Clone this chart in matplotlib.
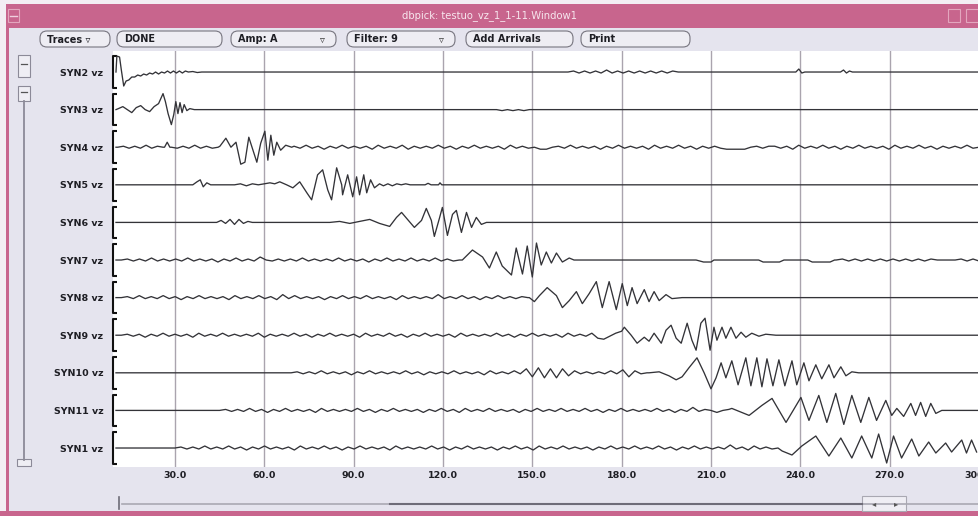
import numpy as np
import matplotlib.pyplot as plt
from matplotlib.patches import Rectangle, FancyBboxPatch

# ---------------- data (times in s, amplitudes in screen pixels) ----------------
stations = ['SYN2 vz', 'SYN3 vz', 'SYN4 vz', 'SYN5 vz', 'SYN6 vz', 'SYN7 vz',
            'SYN8 vz', 'SYN9 vz', 'SYN10 vz', 'SYN11 vz', 'SYN1 vz']
tick_times = [30, 60, 90, 120, 150, 180, 210, 240, 270, 300]
tick_labels = ['30.0', '60.0', '90.0', '120.0', '150.0', '180.0', '210.0',
               '240.0', '270.0', '300.0']
button_labels = ['Traces \u25bf', 'DONE', 'Amp: A', 'Filter: 9', 'Add Arrivals', 'Print']
button_menu = [False, False, True, True, False, False]
title = 'dbpick: testuo_vz_1_1-11.Window1'

syn2 = [(10.2, 0), (10.5, 16), (11.4, 15), (12.0, 2), (12.8, -14), (13.6, -9), (14.5, -8),
        (15.5, -5), (16.5, -5), (17.5, -3), (18.5, -4), (19.5, -2), (20.5, -3), (21.5, -1),
        (22.5, -2), (23.5, 0), (24.5, -2), (25.5, 0), (26.5, -1), (27.5, 1), (28.5, -1),
        (29.5, 1), (30.5, -1), (31.5, 1), (32.5, -1), (33.5, 1), (34.5, 0), (36, 0.5),
        (37.5, -0.5), (39, 0), (161, 0), (238.5, 0), (239.5, 3), (240.5, -1), (241.5, 0),
        (253.5, 0), (254.5, 2), (255.5, -1), (256.5, 1), (257.5, 0), (300, 0)]
syn2_noise = [(162, 199, [0, 1, -1, 1, -1, 1, -1, 2, -1, 1, -1, 1, -1, 1, -1, 1, -1, 1, -1, 1, 0])]

syn3 = [(10.2, 0), (11, 1), (12.5, 3), (14, 0), (15.5, -3), (17, 2), (18.5, 4), (20, 0),
        (21.5, -2), (23, 3), (24.5, 6), (26, 16), (26.8, 8), (27.7, -4), (28.8, -15),
        (29.6, -5), (30.3, 8), (31.0, -4), (31.7, 7), (32.4, -3), (33.1, 5), (34.0, -1),
        (35.0, 1), (36.5, 0), (137.5, 0), (150, 0), (300, 0)]
syn3_noise = [(138, 149, [0, -1, 0, -1, 0, -1, 0])]

syn4 = [(10.2, 0), (26.5, 0), (27.4, 5), (28.3, 0), (45.1, 1), (47.1, 9), (48.8, 0),
        (50.5, 5), (52.1, -17), (53.5, -15), (54.8, 10), (56.1, -2), (57.5, -15), (58.8, 4),
        (60.2, 16), (61.2, -13), (62.2, 12), (63.2, -8), (64.2, 5), (65.5, -3), (67.2, 2),
        (69.2, 0)]
syn4_noise = [(10.8, 26.0, [0, 1, -1, 1, -1, 2, -1, 1, 0]),
              (28.8, 44.5, [0, -1, 1, -1, 2, -1, 1, -1, 0]),
              (70.0, 300.0, [1, -1, 2, -1, 1, -2, 1, -1, 2, -1,
                             1, -1, 1, -2, 2, -1, 1, -1, 2, -2,
                             1, -1, 1, -1, 2, -1, 1, -2, 1, -1,
                             2, -1, 1, -1, 1, -2, 2, -1, 1, -1,
                             0, -2, -2, 0, 1, -1, 2, -1, 1, -1,
                             1, -2, 1, -1, 2, -1, 1, -1, 1, -2,
                             2, -1, 1, -1, 2, -1, 1, -2, 1, -1,
                             1, -1, -2, -2, -2, -2, 0, 1, -1, 1,
                             1, -1, 1, -2, 2, -1, 1, -1, 2, -1,
                             1, -2, 1, -1, 2, -1, 1, -1, 1, -2,
                             2, -1, 1, -1, 2, -1, 1, -2, 1, -1,
                             1, -1, 2, -1, 0])]

syn5 = [(10.2, 0), (36, 0), (37.4, 3), (38.5, 5), (39.5, -2), (40.7, 2), (42, 0), (50, 0),
        (52, 1), (54, -1), (56, 1), (58, 0), (60, 1), (61.9, 2), (63.5, 1), (65.2, 3),
        (67.5, 0), (69.6, -3), (71.9, 3), (74.3, -8), (75.9, -15), (77.9, 10), (79.6, 15),
        (81.3, -5), (82.6, -15), (84.3, 17), (86.0, 0), (86.3, -10), (88.0, 10), (89.7, -12),
        (91.0, 8), (92.0, -10), (93.4, 10), (94.4, -8), (95.7, 5), (97.0, -3), (98.7, 1),
        (100, -1), (101.5, 1), (103, -1), (104.5, 1), (106, 0), (107.5, 1), (109, 0),
        (114, 0), (115, 1.5), (116, 0), (118.5, 0), (119, 2), (119.6, 0), (300, 0)]
syn5_noise = []

syn6 = [(10.2, 0), (44, 0), (45.5, 2), (47, -1), (48.5, 3), (50, -2), (51.5, 3), (53, -1),
        (54.5, 1), (56, 0), (82, 0), (85.3, 1), (88.7, -1), (92, 1), (95.4, 3), (98.7, -1),
        (102.1, -4), (104.4, 5), (106.1, 10), (108.1, 3), (110.4, -5), (112.8, 2), (114.4, 14),
        (116.1, 2), (117.1, -14), (118.8, 4), (119.8, 15), (121.5, -13), (123.2, 8),
        (124.5, 12), (126.2, -10), (127.9, 10), (129.6, -5), (131.2, 5), (132.9, -2),
        (134.6, 0), (300, 0)]
syn6_noise = []

syn7 = [(10.2, 0), (126.5, 0), (129.9, 10), (133.3, 3), (135.6, -8), (137.9, 8), (139.9, -6),
        (143.0, -15), (144.6, 12), (146.7, -14), (148.3, 14), (150.0, -17), (151.4, 17),
        (153.0, -5), (154.7, 8), (156.4, -3), (158.1, 7), (160.1, -2), (162.4, 2), (164, 0),
        (205, 0), (207.5, -2), (210, -2), (211, 0), (226, 0), (227.5, -2), (233, -2),
        (234.5, 0), (242.5, 0), (244, -2), (250, -2), (251.5, 0), (287, 0), (291, 0)]
syn7_noise = [(12, 125.5, [0, 1, -1, 1, -1, 2, -1, 1, -1, 1,
                           -1, 2, -1, 1, -1, 1, -2, 1, -1, 2,
                           -1, 1, -1, 3, 0, -1, 1, -1, 1, -1,
                           2, -1, 1, -1, 1, -1, 2, -1, 1, -1,
                           1, -2, 1, -1, 2, -1, 1, -1, 2, -1,
                           1, -1, 2, -1, 1, -1, 0]),
              (252, 286, [0, 1, -1, 1, -1, 1, -1, 1, -1, 1, -1, 1, -1, 1, -1, 1, 0]),
              (292, 300, [0, 1, -1, 1, -1])]

syn8 = [(10.2, 0), (149.0, 0), (150.7, -4), (152.4, 2), (155.0, 10), (158.1, 2), (160.1, -10),
        (162.4, -3), (164.8, 6), (166.8, -6), (169.1, 4), (171.5, 16), (173.5, -10),
        (175.8, 16), (178.2, -12), (180.2, 14), (181.9, -8), (183.5, 10), (185.2, -6),
        (187.6, 8), (189.2, -4), (190.9, 6), (192.6, -3), (194.9, 3), (196.9, -1),
        (200.3, 0), (300, 0)]
syn8_noise = [(12, 148.5, [0, 1, -1, 2, -1, 1, -1, 2, -1, 1,
                           -2, 1, -1, 2, -1, 1, -1, 1, -2, 2,
                           -1, 1, -1, 2, -1, 1, -2, 3, -1, 2,
                           -1, 1, -1, 1, -2, 1, -1, 2, -1, 1,
                           -1, 2, -1, 1, -1, 1, -2, 2, -1, 1,
                           -1, 1, -1, 3, -1, 1, -1, 2, -1, 1,
                           -2, 1, -1, 2, -1, 1, -1, 1, 0])]

syn9 = [(10.2, 0), (180.9, 8), (183.2, 0), (185.2, -8), (187.6, -2), (189.2, -6), (190.9, 2),
        (193.3, -8), (194.9, 5), (196.6, 10), (198.3, -3), (200.0, -8), (202.0, 12),
        (203.6, -5), (205.0, -15), (206.6, 12), (208.0, 17), (209.7, -15), (211.0, 8),
        (212.0, -5), (213.7, 8), (215.0, -3), (216.7, 8), (218.4, -3), (220.1, 3),
        (221.7, -2), (223.7, 2), (226.1, -1), (228.4, 1), (231.8, 0), (300, 0)]
syn9_noise = [(12, 180, [0, 1, -1, 1, -2, 1, -1, 2, -1, 1,
                         -1, 1, -2, 2, -1, 1, -1, 2, -1, 1,
                         -1, 1, -1, 2, -2, 1, -1, 1, -1, 2,
                         -1, 1, -2, 1, -1, 2, -1, 1, -1, 1,
                         -2, 2, -1, 1, -1, 2, -1, 1, -2, 1,
                         -1, 2, -1, 1, -1, 1, -2, 2, -1, 1,
                         -1, 1, -1, 2, -1, 1, -2, 1, -1, 2,
                         -1, 1, -1, 1, -2, 2, -1, 1, -1, 2,
                         -3, -4, -1, 2, 4])]

syn10 = [(10.2, 0), (68, 0), (189.2, 0), (192.6, 1), (195.9, -3), (198.3, -7), (200.3, -4),
         (202.6, 5), (205.3, 15), (207.7, 0), (210.0, -16), (211.7, -5), (213.4, 10),
         (215.0, -5), (217.0, 12), (219.1, -12), (221.7, 15), (223.4, -13), (225.4, 15),
         (227.1, -14), (228.8, 14), (230.8, -13), (232.8, 13), (234.8, -13), (237.2, 12),
         (238.8, -12), (241.2, 10), (242.9, -8), (245.2, 8), (247.2, -6), (249.6, 8),
         (251.3, -5), (253.6, 6), (255.3, -3), (257.3, 1), (259.6, 0), (300, 0)]
syn10_noise = [(69, 188.5, [0, 1, -1, 1, -1, 2, -1, 1, -1, 1,
                            -2, 1, -1, 2, -1, 1, -1, 1, -1, 2,
                            -1, 1, -2, 1, -1, 1, -1, 2, -1, 1,
                            -1, 1, -2, 2, -1, 1, -1, 2, -1, 4,
                            -4, 5, -5, 4, -5, 4, -3, 2, -1, 1,
                            -1, 1, -1, 2, -1, 3, -4, 2, -1, 0])]

syn11 = [(10.2, 0), (44, 0), (217.0, 2), (222.8, -5), (227.1, 5), (230.5, 12), (235.2, -12),
         (240.2, 13), (242.9, -10), (246.2, 15), (248.9, -12), (251.9, 17), (254.6, -14),
         (257.3, 15), (260.3, -12), (263.0, 13), (265.6, -10), (268.7, 10), (270.7, -5),
         (272.4, 2), (274.7, -6), (277.1, 7), (278.7, -5), (280.4, 8), (282.1, -6),
         (283.8, 7), (285.5, -3), (287.5, 0), (300, 0)]
syn11_noise = [(45, 216, [0, 1, -1, 1, -1, 2, -1, 1, -2, 1,
                          -1, 2, -1, 1, -1, 1, -2, 2, -1, 1,
                          -1, 1, -1, 2, -1, 1, -2, 1, -1, 2,
                          -1, 1, -1, 1, -2, 1, -1, 2, -1, 1,
                          -2, 2, -1, 1, -1, 2, -1, 1, -1, 1,
                          -2, 1, -1, 2, -1, 1, -1, 2, -1, 1,
                          -1, 2, -1, 1, -2, 1, -1, 2, -1, 1,
                          -1, 1, -1, 2, -1, 1, -2, 1, -1, 3,
                          -1, 1, 0, -2, 0, 1])]

syn1 = [(10.2, 0), (29, 0), (233.9, -3), (237.2, -7), (240.5, 2), (245.2, 12), (249.6, -8),
        (253.6, 10), (257.3, -10), (260.6, 12), (264.0, -10), (266.3, 14), (269.0, -15),
        (271.3, 12), (274.0, -10), (277.4, 9), (279.8, -8), (283.1, 6), (285.5, -5),
        (288.8, 5), (290.8, -4), (294.2, 8), (295.8, -5), (297.5, 8), (299.2, -4)]
syn1_noise = [(30, 232.5, [0, 1, -1, 1, -1, 2, -1, 1, -1, 2,
                           -1, 1, -2, 1, -1, 2, -1, 1, -1, 1,
                           -2, 2, -1, 1, -1, 2, -1, 1, -2, 1,
                           -1, 2, -1, 1, -1, 1, -2, 2, -1, 1,
                           -1, 1, -1, 2, -1, 1, -2, 1, -1, 2,
                           -1, 1, -1, 1, -2, 1, -1, 2, -1, 1,
                           -2, 2, -1, 1, -1, 2, -1, 1, -1, 1,
                           -2, 1, -1, 2, -1, 1, -1, 2, -1, 1,
                           -1, 2, -1, 1, -2, 1, -1, 2, -1, 1,
                           -1, 1, -1, 3, -1, 1, -2, 2, -1, 1,
                           -1, 0])]

traces = [(syn2, syn2_noise), (syn3, syn3_noise), (syn4, syn4_noise), (syn5, syn5_noise),
          (syn6, syn6_noise), (syn7, syn7_noise), (syn8, syn8_noise), (syn9, syn9_noise),
          (syn10, syn10_noise), (syn11, syn11_noise), (syn1, syn1_noise)]


def build(knots, noise):
    t = [k[0] for k in knots]
    a = [k[1] for k in knots]
    for t0, t1, amps in noise:
        t.extend(np.linspace(t0, t1, len(amps)))
        a.extend(amps)
    order = np.argsort(t)
    return np.asarray(t)[order], np.asarray(a, dtype=float)[order]


# ---------------- window chrome ----------------
W, H = 979, 516
PINK = '#c8658d'
PANEL = '#e5e4ee'
LINE = '#8c8a98'

fig = plt.figure(figsize=(W / 100, H / 100), dpi=100, facecolor=PANEL)
bg = fig.add_axes([0, 0, 1, 1])
bg.set_xlim(0, W)
bg.set_ylim(H, 0)
bg.axis('off')

bg.add_patch(Rectangle((0, 0), W, 4, color='#f3eef3', lw=0))
bg.add_patch(Rectangle((0, 4), W, 24, color=PINK, lw=0))
bg.add_patch(Rectangle((0, 0), 6, H, color='#f3eef3', lw=0))
bg.add_patch(Rectangle((6, 4), 3, H, color=PINK, lw=0))
bg.add_patch(Rectangle((0, H - 5), W, 5, color=PINK, lw=0))
bg.add_patch(Rectangle((8, 9), 11, 13, fc='none', ec='#e3a6be', lw=0.8))
bg.plot([10, 17], [15.5, 15.5], color='#f0d0de', lw=1)
bg.add_patch(Rectangle((948, 9), 12, 13, fc='none', ec='#e3a6be', lw=0.8))
bg.add_patch(Rectangle((966, 9), 13, 13, fc='none', ec='#e3a6be', lw=0.8))
bg.text(490, 16, title, color='#f7e6ee', fontsize=7.2, ha='center', va='center')

# toolbar buttons
button_x = [40, 117, 231, 347, 466, 581]
button_w = [70, 105, 105, 108, 107, 109]
for lab, menu, bx, bw in zip(button_labels, button_menu, button_x, button_w):
    bg.add_patch(FancyBboxPatch((bx, 31), bw, 16, boxstyle='round,pad=0,rounding_size=7',
                                fc='#eeedf3', ec='#77757f', lw=0.8))
    bg.text(bx + 7, 39.5, lab, fontsize=7, fontweight='bold', color='#1e1e24',
            ha='left', va='center')
    if menu:
        bg.text(bx + bw - 14, 39.5, '\u25bf', fontsize=7, color='#333', ha='center', va='center')

# left vertical scrollbar
bg.add_patch(Rectangle((18, 55), 12, 22, fc='#efeef4', ec=LINE, lw=0.8))
bg.plot([21, 27], [64, 64], color='#555', lw=0.9)
bg.add_patch(Rectangle((18, 86), 12, 15, fc='#efeef4', ec=LINE, lw=0.8))
bg.plot([21, 27], [92, 92], color='#555', lw=0.9)
bg.plot([24.5, 24.5], [101, 460], color=LINE, lw=1.3)
bg.add_patch(Rectangle((17, 459), 14, 7, fc='#efeef4', ec=LINE, lw=0.8))

# bottom horizontal scrollbar
bg.plot([122, 979], [503.5, 503.5], color='#a9a8b2', lw=1.2)
bg.plot([390, 862], [503.5, 503.5], color='#6e6c78', lw=1.5)
bg.plot([119, 119], [497, 509], color='#6e6c78', lw=1.2)
bg.add_patch(Rectangle((862, 496), 44, 15, fc='#efeef4', ec='#a9a8b2', lw=0.8))
bg.text(874, 503.5, '\u25c2', fontsize=6, color='#555', ha='center', va='center')
bg.text(896, 503.5, '\u25b8', fontsize=6, color='#555', ha='center', va='center')

# ---------------- seismogram panel ----------------
px_per_trace = 37.6
ax = fig.add_axes([113 / W, (H - 467) / H, (W - 113) / W, (467 - 51) / H])
ax.set_facecolor('white')
ax.set_xlim(9.2, 300.0)
ax.set_ylim(10.505, -0.559)
for s in ax.spines.values():
    s.set_visible(False)

ax.set_xticks(tick_times, tick_labels)
ax.set_yticks(range(len(stations)), stations)
ax.tick_params(axis='both', length=0, labelsize=6.8, labelcolor='#1e1e24')
ax.tick_params(axis='x', pad=3)
ax.tick_params(axis='y', pad=7)
for lab in ax.get_xticklabels() + ax.get_yticklabels():
    lab.set_fontweight('bold')
ax.grid(axis='x', color='#aaa4ae', lw=1.0)
ax.set_axisbelow(True)

ytr = ax.get_yaxis_transform()
for i in range(len(stations)):
    ax.plot([0.0046, 0, 0, 0.0046], [i - 0.42, i - 0.42, i + 0.42, i + 0.42],
            color='#111', lw=1.5, transform=ytr, clip_on=False, solid_capstyle='butt')

for i, (knots, noise) in enumerate(traces):
    t, a = build(knots, noise)
    ax.plot(t, i - a / px_per_trace, color='#333338', lw=0.95)

fig.savefig('out.png', dpi=100, facecolor=PANEL)
